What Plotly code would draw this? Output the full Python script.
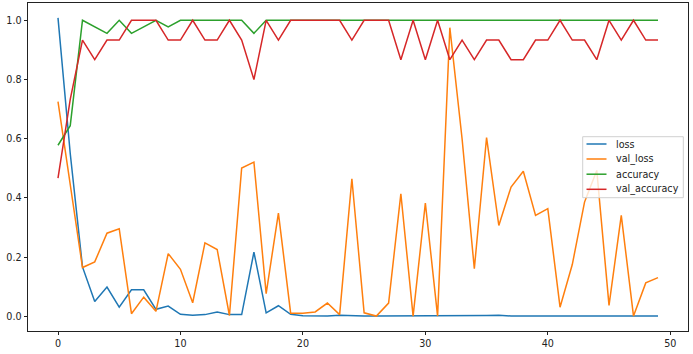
import plotly.graph_objects as go

epochs = list(range(50))

loss = [1.008, 0.55, 0.167, 0.05, 0.099, 0.031, 0.09, 0.09, 0.024, 0.035,
        0.007, 0.004, 0.006, 0.015, 0.006, 0.006, 0.217, 0.012, 0.036, 0.007,
        0.002, 0.002, 0.001, 0.004, 0.002, 0.001, 0.001, 0.001, 0.001, 0.001,
        0.001, 0.001, 0.002, 0.002, 0.003, 0.003, 0.004, 0.001, 0.001, 0.001,
        0.001, 0.001, 0.001, 0.001, 0.001, 0.001, 0.001, 0.001, 0.001, 0.001]

val_loss = [0.725, 0.44, 0.165, 0.184, 0.281, 0.296, 0.009, 0.065, 0.017, 0.212,
            0.159, 0.046, 0.248, 0.226, 0.003, 0.501, 0.521, 0.077, 0.349, 0.011,
            0.011, 0.015, 0.045, 0.006, 0.465, 0.012, 0.001, 0.045, 0.414, 0.001,
            0.383, 0.001, 0.975, 0.6, 0.161, 0.604, 0.307, 0.437, 0.49, 0.341,
            0.364, 0.031, 0.175, 0.386, 0.493, 0.037, 0.341, 0.001, 0.113, 0.131]

accuracy = [0.578, 0.644, 1.0, 0.978, 0.956, 1.0, 0.956, 0.978, 1.0, 0.978,
            1.0, 1.0, 1.0, 1.0, 1.0, 1.0, 0.956, 1.0, 1.0, 1.0,
            1.0, 1.0, 1.0, 1.0, 1.0, 1.0, 1.0, 1.0, 1.0, 1.0,
            1.0, 1.0, 1.0, 1.0, 1.0, 1.0, 1.0, 1.0, 1.0, 1.0,
            1.0, 1.0, 1.0, 1.0, 1.0, 1.0, 1.0, 1.0, 1.0, 1.0]

val_accuracy = [0.467, 0.733, 0.933, 0.867, 0.933, 0.933, 1.0, 1.0, 1.0, 0.933,
                0.933, 1.0, 0.933, 0.933, 1.0, 0.933, 0.8, 1.0, 0.933, 1.0,
                1.0, 1.0, 1.0, 1.0, 0.933, 1.0, 1.0, 1.0, 0.867, 1.0,
                0.867, 1.0, 0.867, 0.933, 0.867, 0.933, 0.933, 0.867, 0.867, 0.933,
                0.933, 1.0, 0.933, 0.933, 0.867, 1.0, 0.933, 1.0, 0.933, 0.933]

series_names = ["loss", "val_loss", "accuracy", "val_accuracy"]
series_values = [loss, val_loss, accuracy, val_accuracy]
colors = ["#1f77b4", "#ff7f0e", "#2ca02c", "#d62728"]
y_ticks = [0.0, 0.2, 0.4, 0.6, 0.8, 1.0]
x_ticks = [0, 10, 20, 30, 40, 50]

W, H = 693, 354
ML, MR, MT, MB = 28, 5, 3, 23
PW, PH = W - ML - MR, H - MT - MB

fig = go.Figure()
for name, vals, c in zip(series_names, series_values, colors):
    fig.add_trace(go.Scatter(x=epochs, y=vals, mode="lines", name=name,
                             line=dict(color=c, width=1.5), showlegend=False))

# matplotlib-like 5% margins
allv = [v for s in series_values for v in s]
ymin, ymax = min(allv), max(allv)
yspan = ymax - ymin
xmin, xmax = min(epochs), max(epochs)
xspan = xmax - xmin

font = dict(family="DejaVu Sans", size=9.6, color="#222222")

axis_common = dict(showline=True, linecolor="#222222", linewidth=0.9, mirror=True,
                   ticks="outside", ticklen=3.5, tickwidth=0.8, tickcolor="#222222",
                   showgrid=False, zeroline=False, tickfont=font)

fig.update_xaxes(range=[xmin - 0.05 * xspan, xmax + 0.05 * xspan],
                 tickvals=x_ticks, ticktext=[str(t) for t in x_ticks], **axis_common)
fig.update_yaxes(range=[ymin - 0.05 * yspan, ymax + 0.05 * yspan],
                 tickvals=y_ticks, ticktext=[f"{t:.1f}" for t in y_ticks], **axis_common)

# custom matplotlib-style legend (pixel layout -> paper coords)
def px(xp):
    return (xp - ML) / PW

def py(yp):
    return (H - MB - yp) / PH

shapes = [dict(type="rect", xref="paper", yref="paper",
               x0=px(582.7), x1=px(683.3), y0=py(197.7), y1=py(136.7),
               line=dict(color="#d0d0d0", width=1), fillcolor="rgba(255,255,255,0.8)",
               layer="above")]
annotations = []
entry_y = [144.0, 159.0, 174.2, 189.3]
for name, c, ey in zip(series_names, colors, entry_y):
    shapes.append(dict(type="line", xref="paper", yref="paper",
                       x0=px(586.5), x1=px(606.5), y0=py(ey), y1=py(ey),
                       line=dict(color=c, width=1.5), layer="above"))
    annotations.append(dict(xref="paper", yref="paper", x=px(613.5), y=py(ey),
                            text=name, showarrow=False, xanchor="left", yanchor="middle",
                            font=font))

fig.update_layout(width=W, height=H, margin=dict(l=ML, r=MR, t=MT, b=MB),
                  paper_bgcolor="white", plot_bgcolor="white",
                  shapes=shapes, annotations=annotations)

fig.write_html("out.html")
